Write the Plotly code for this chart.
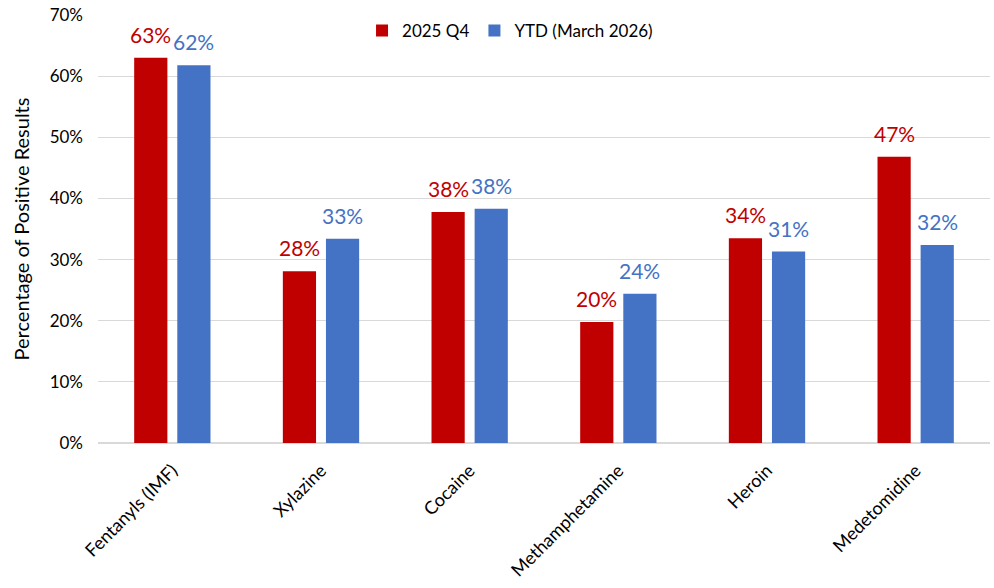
import plotly.graph_objects as go

categories = ["Fentanyls (IMF)", "Xylazine", "Cocaine", "Methamphetamine", "Heroin", "Medetomidine"]
q4_2025 = [0.63, 0.281, 0.378, 0.198, 0.335, 0.468]
ytd_2026 = [0.618, 0.334, 0.383, 0.244, 0.313, 0.324]
series_names = ["2025 Q4", "YTD (March 2026)"]
colors = ["#C00000", "#4472C4"]
tick_vals = [0, 0.1, 0.2, 0.3, 0.4, 0.5, 0.6, 0.7]

FONT = "Lato, 'Open Sans', sans-serif"
W, H = 994, 588
L, R, T, B = 98, 4, 15, 145
BARGAP = 0.42
BARGROUPGAP = 0.23

fig = go.Figure()
for name, vals, c in zip(series_names, [q4_2025, ytd_2026], colors):
    fig.add_trace(go.Bar(
        x=categories, y=vals, name=name, marker=dict(color=c, line=dict(width=0)),
        hoverinfo="skip",
    ))

# data labels above each bar (offset to the bar's slot within the group)
cat_px = (W - L - R) / len(categories)
slot_px = cat_px * (1 - BARGAP) / 2
for i, (vals, c) in enumerate(zip([q4_2025, ytd_2026], colors)):
    shift = (i - 0.5) * slot_px
    for cat, v in zip(categories, vals):
        fig.add_annotation(x=cat, y=v, text=f"{v:.0%}", showarrow=False,
                           xshift=shift, yshift=9, yanchor="bottom",
                           font=dict(color=c, size=21, family=FONT))

fig.update_layout(
    width=W, height=H,
    margin=dict(l=L, r=R, t=T, b=B, pad=0),
    paper_bgcolor="white", plot_bgcolor="white",
    barmode="group", bargap=BARGAP, bargroupgap=BARGROUPGAP,
    font=dict(family=FONT, size=17, color="#000000"),
    legend=dict(orientation="h", x=0.296, xanchor="left", y=1.005, yanchor="top",
                font=dict(size=17), itemwidth=30, traceorder="normal"),
    showlegend=True,
)
fig.update_yaxes(range=[0, 0.7], tickvals=tick_vals, tickformat=".0%",
                 showgrid=True, gridcolor="#D9D9D9", gridwidth=1.3,
                 zeroline=True, zerolinecolor="#D9D9D9", zerolinewidth=1.5,
                 title=dict(text="Percentage of Positive Results", font=dict(size=20), standoff=14),
                 ticks="", ticklen=0, ticklabelstandoff=14, tickfont=dict(size=17), automargin=False)
fig.update_xaxes(tickangle=-45, showline=False, ticks="outside", ticklen=9,
                 tickcolor="rgba(0,0,0,0)", tickfont=dict(size=18), automargin=False)

fig.write_html("out.html", config={"displayModeBar": False},
               post_script="document.body.style.margin='0';")
